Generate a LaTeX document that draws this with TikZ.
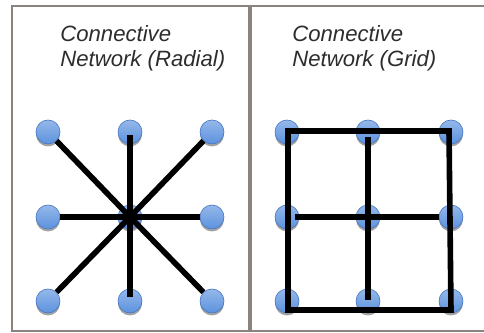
\documentclass[tikz,border=0pt]{standalone}
\usepackage{fontspec}
\setmainfont{Liberation Sans}
\usetikzlibrary{shadows}
\definecolor{framegray}{RGB}{140,130,126}
\definecolor{ballblue}{RGB}{92,146,222}
\definecolor{ballrim}{RGB}{70,118,196}
\definecolor{titlegray}{RGB}{45,45,45}
\newcommand{\pxu}{0.569pt}% one pixel of the reference
\tikzset{
  ball/.style={circle,minimum size=24*\pxu,inner sep=0pt,draw=ballrim,line width=0.6*\pxu,
    top color=ballblue!65!white,bottom color=ballblue,
    drop shadow={shadow xshift=0pt,shadow yshift=-2.5*\pxu,fill=black!60,opacity=0.6}},
  link/.style={line width=5.6*\pxu,black},
  title/.style={anchor=north west,inner sep=0pt,align=left,text=titlegray,
    font=\fontsize{12.6}{14.2}\selectfont\itshape}
}
\begin{document}
\begin{tikzpicture}[x=0.02cm,y=-0.02cm]
\useasboundingbox (0,0) rectangle (484,333);
\begin{scope}
\clip (0,0) rectangle (484,333);
\draw[framegray,line width=2*\pxu] (12,6) rectangle (520,331.5);
\draw[framegray,line width=4*\pxu] (250.3,6) -- (250.3,331.5);
\end{scope}
% titles
\node[title] (tradial) at (60,25) {Connective\\Network (Radial)};
\node[title] (tgrid) at (292,25) {Connective\\Network (Grid)};
% radial network
\foreach \r/\y in {1/132,2/217,3/301}{
  \foreach \c/\x in {1/48,2/130,3/212}{
    \node[ball] (r\r\c) at (\x,\y) {};
  }
}
\draw[link] (r22.center) -- (r11);
\draw[link] (r22.center) -- (r13);
\draw[link] (r22.center) -- (r31);
\draw[link] (r22.center) -- (r33);
\draw[link] (r22.center) -- (r21);
\draw[link] (r22.center) -- (r23);
\draw[link] ([yshift=-3*\pxu]r12.center) -- ([yshift=4*\pxu]r32.center);
% grid network
\foreach \r/\y in {1/132,2/217,3/301}{
  \foreach \c/\x in {1/287,2/368,3/451}{
    \node[ball] (g\r\c) at (\x,\y) {};
  }
}
\draw[link] ([xshift=1*\pxu,yshift=1*\pxu]g11.center) -- ([xshift=-2*\pxu,yshift=1*\pxu]g13.center)
  -- ([yshift=-9*\pxu]g33.center) -- ([xshift=1*\pxu,yshift=-9*\pxu]g31.center) -- cycle;
\draw[link] ([yshift=-5*\pxu]g12.center) -- ([yshift=1*\pxu]g32.center);
\draw[link] ([xshift=8*\pxu]g21.center) -- ([xshift=-12*\pxu]g23.center);
\end{tikzpicture}
\end{document}
